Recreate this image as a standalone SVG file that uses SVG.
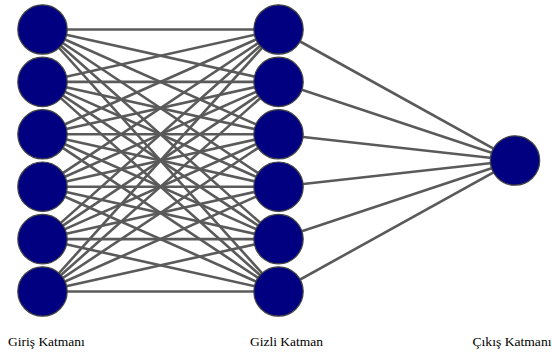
<svg xmlns="http://www.w3.org/2000/svg" width="552" height="354" viewBox="0 0 552 354">
  <style>
    .edge { stroke: #5a5a5a; stroke-width: 2.6; }
    .neuron { fill: #000080; stroke: #444; stroke-width: 1.2; }
    .label { font-family: "Liberation Serif", "Times New Roman", serif; font-size: 13.5px; fill: #000; }
  </style>
  <rect width="552" height="354" fill="#fff"/>
  <g id="connectors">
    <!-- input -> hidden: every pair -->
    <g id="input-hidden">
      <line class="edge" x1="42.5" y1="29.5" x2="278.5" y2="29.5"/>
      <line class="edge" x1="42.5" y1="29.5" x2="278.5" y2="81.9"/>
      <line class="edge" x1="42.5" y1="29.5" x2="278.5" y2="134.3"/>
      <line class="edge" x1="42.5" y1="29.5" x2="278.5" y2="186.7"/>
      <line class="edge" x1="42.5" y1="29.5" x2="278.5" y2="239.1"/>
      <line class="edge" x1="42.5" y1="29.5" x2="278.5" y2="291.5"/>
      <line class="edge" x1="42.5" y1="81.9" x2="278.5" y2="29.5"/>
      <line class="edge" x1="42.5" y1="81.9" x2="278.5" y2="81.9"/>
      <line class="edge" x1="42.5" y1="81.9" x2="278.5" y2="134.3"/>
      <line class="edge" x1="42.5" y1="81.9" x2="278.5" y2="186.7"/>
      <line class="edge" x1="42.5" y1="81.9" x2="278.5" y2="239.1"/>
      <line class="edge" x1="42.5" y1="81.9" x2="278.5" y2="291.5"/>
      <line class="edge" x1="42.5" y1="134.3" x2="278.5" y2="29.5"/>
      <line class="edge" x1="42.5" y1="134.3" x2="278.5" y2="81.9"/>
      <line class="edge" x1="42.5" y1="134.3" x2="278.5" y2="134.3"/>
      <line class="edge" x1="42.5" y1="134.3" x2="278.5" y2="186.7"/>
      <line class="edge" x1="42.5" y1="134.3" x2="278.5" y2="239.1"/>
      <line class="edge" x1="42.5" y1="134.3" x2="278.5" y2="291.5"/>
      <line class="edge" x1="42.5" y1="186.7" x2="278.5" y2="29.5"/>
      <line class="edge" x1="42.5" y1="186.7" x2="278.5" y2="81.9"/>
      <line class="edge" x1="42.5" y1="186.7" x2="278.5" y2="134.3"/>
      <line class="edge" x1="42.5" y1="186.7" x2="278.5" y2="186.7"/>
      <line class="edge" x1="42.5" y1="186.7" x2="278.5" y2="239.1"/>
      <line class="edge" x1="42.5" y1="186.7" x2="278.5" y2="291.5"/>
      <line class="edge" x1="42.5" y1="239.1" x2="278.5" y2="29.5"/>
      <line class="edge" x1="42.5" y1="239.1" x2="278.5" y2="81.9"/>
      <line class="edge" x1="42.5" y1="239.1" x2="278.5" y2="134.3"/>
      <line class="edge" x1="42.5" y1="239.1" x2="278.5" y2="186.7"/>
      <line class="edge" x1="42.5" y1="239.1" x2="278.5" y2="239.1"/>
      <line class="edge" x1="42.5" y1="239.1" x2="278.5" y2="291.5"/>
      <line class="edge" x1="42.5" y1="291.5" x2="278.5" y2="29.5"/>
      <line class="edge" x1="42.5" y1="291.5" x2="278.5" y2="81.9"/>
      <line class="edge" x1="42.5" y1="291.5" x2="278.5" y2="134.3"/>
      <line class="edge" x1="42.5" y1="291.5" x2="278.5" y2="186.7"/>
      <line class="edge" x1="42.5" y1="291.5" x2="278.5" y2="239.1"/>
      <line class="edge" x1="42.5" y1="291.5" x2="278.5" y2="291.5"/>
    </g>
    <!-- hidden -> output -->
    <g id="hidden-output">
      <line class="edge" x1="278.5" y1="29.5" x2="515" y2="160.5"/>
      <line class="edge" x1="278.5" y1="81.9" x2="515" y2="160.5"/>
      <line class="edge" x1="278.5" y1="134.3" x2="515" y2="160.5"/>
      <line class="edge" x1="278.5" y1="186.7" x2="515" y2="160.5"/>
      <line class="edge" x1="278.5" y1="239.1" x2="515" y2="160.5"/>
      <line class="edge" x1="278.5" y1="291.5" x2="515" y2="160.5"/>
    </g>
  </g>
  <g id="input-layer">
    <g id="in1"><circle class="neuron" cx="42.5" cy="29.5" r="24.7"/></g>
    <g id="in2"><circle class="neuron" cx="42.5" cy="81.9" r="24.7"/></g>
    <g id="in3"><circle class="neuron" cx="42.5" cy="134.3" r="24.7"/></g>
    <g id="in4"><circle class="neuron" cx="42.5" cy="186.7" r="24.7"/></g>
    <g id="in5"><circle class="neuron" cx="42.5" cy="239.1" r="24.7"/></g>
    <g id="in6"><circle class="neuron" cx="42.5" cy="291.5" r="24.7"/></g>
  </g>
  <g id="hidden-layer">
    <g id="h1"><circle class="neuron" cx="278.5" cy="29.5" r="24.7"/></g>
    <g id="h2"><circle class="neuron" cx="278.5" cy="81.9" r="24.7"/></g>
    <g id="h3"><circle class="neuron" cx="278.5" cy="134.3" r="24.7"/></g>
    <g id="h4"><circle class="neuron" cx="278.5" cy="186.7" r="24.7"/></g>
    <g id="h5"><circle class="neuron" cx="278.5" cy="239.1" r="24.7"/></g>
    <g id="h6"><circle class="neuron" cx="278.5" cy="291.5" r="24.7"/></g>
  </g>
  <g id="output-layer">
    <g id="out1"><circle class="neuron" cx="515" cy="160.5" r="24.7"/></g>
  </g>
  <g id="labels">
    <text class="label" x="8" y="346">Giriş Katmanı</text>
    <text class="label" x="250" y="346">Gizli Katman</text>
    <text class="label" x="472.5" y="346" textLength="79" lengthAdjust="spacingAndGlyphs">Çıkış Katmanı</text>
  </g>
</svg>
